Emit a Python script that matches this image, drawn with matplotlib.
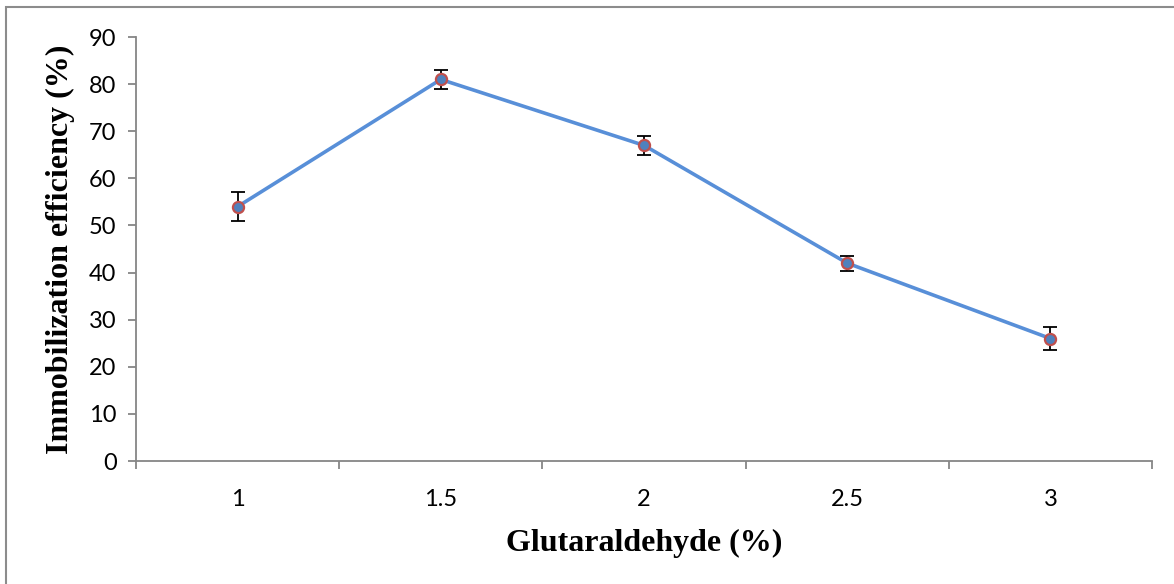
import matplotlib
matplotlib.use("Agg")
import matplotlib.pyplot as plt
from matplotlib.patches import Rectangle

# glutaraldehyde concentration vs. immobilization efficiency
concentrations = ["1", "1.5", "2", "2.5", "3"]
efficiency = [54, 81, 67, 42, 26]
errors = [3, 2, 2, 1.6, 2.5]

fig = plt.figure(figsize=(11.74, 5.84), dpi=100)
ax = fig.add_axes([0.1158, 0.2106, 0.8655, 0.726])

x = list(range(len(concentrations)))
ax.errorbar(x, efficiency, yerr=errors, fmt="none", ecolor="black",
            elinewidth=1.3, capsize=5, capthick=1.3, zorder=2)
ax.plot(x, efficiency, color="#588FD8", linewidth=2.6, zorder=3)
ax.plot(x, efficiency, linestyle="none", marker="o", markersize=8,
        markerfacecolor="#4F81BD", markeredgecolor="#C0504D",
        markeredgewidth=1.6, zorder=4)

ax.set_xlim(-0.5, len(x) - 0.5)
ax.set_ylim(0, 90)
ax.set_yticks(range(0, 91, 10))
ax.set_xticks([i - 0.5 for i in range(len(x) + 1)])
ax.set_xticklabels([])
ax.set_xticks(x, minor=True)
ax.set_xticklabels(concentrations, minor=True)

spine_color = "#868686"
for side in ("top", "right"):
    ax.spines[side].set_visible(False)
for side in ("left", "bottom"):
    ax.spines[side].set_color(spine_color)
    ax.spines[side].set_linewidth(1.3)

ax.tick_params(axis="y", which="major", direction="out", length=6,
               color=spine_color, width=1.3, labelsize=17, pad=8)
ax.tick_params(axis="x", which="major", direction="out", length=6,
               color=spine_color, width=1.3)
ax.tick_params(axis="x", which="minor", length=0, labelsize=17, pad=20)
for lbl in ax.get_yticklabels() + ax.get_xticklabels(minor=True):
    lbl.set_fontfamily("Lato")

ax.set_xlabel("Glutaraldehyde (%)", fontfamily="Liberation Serif",
              fontweight="bold", fontsize=23, labelpad=14)
ax.set_ylabel("Immobilization efficiency (%)", fontfamily="Liberation Serif",
              fontweight="bold", fontsize=23, labelpad=10)

# outer chart frame
fig.patches.append(Rectangle((6 / 1174, -0.1), 1.2, (584 - 7) / 584 + 0.1,
                             transform=fig.transFigure, fill=False,
                             edgecolor="#8C8C8C", linewidth=1.5))

fig.savefig("out.png", dpi=100)
